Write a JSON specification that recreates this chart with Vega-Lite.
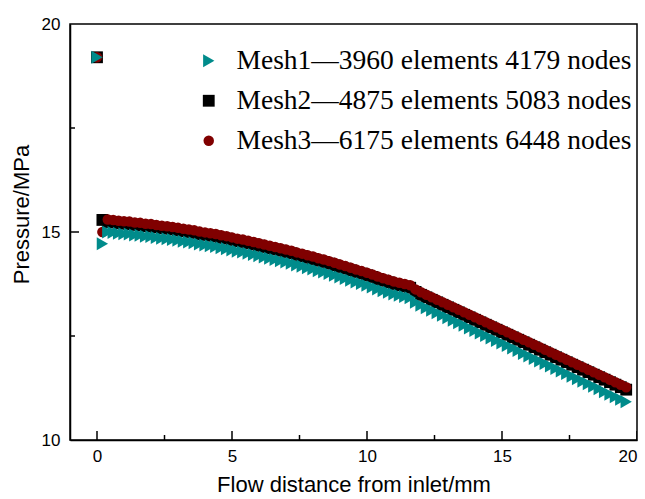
{
  "$schema": "https://vega.github.io/schema/vega-lite/v6.json",
  "width": 567,
  "height": 416,
  "autosize": "none",
  "padding": {"left": 70, "top": 24, "right": 8, "bottom": 59},
  "background": "white",
  "config": {
    "view": {"stroke": "black", "strokeWidth": 1.5},
    "axis": {
      "grid": false,
      "labelFont": "Liberation Sans",
      "labelFontSize": 17,
      "labelColor": "black",
      "titleFont": "Liberation Sans",
      "titleFontSize": 22,
      "titleFontWeight": "normal",
      "titleColor": "black",
      "domainColor": "black",
      "domainWidth": 1.5
    }
  },
  "datasets": {
    "ticksX": [{"x":0,"y":10},{"x":5,"y":10},{"x":10,"y":10},{"x":15,"y":10},{"x":20,"y":10}],
    "minorX": [{"x":2.5,"y":10},{"x":7.5,"y":10},{"x":12.5,"y":10},{"x":17.5,"y":10}],
    "ticksY": [{"x":-1,"y":15}],
    "minorY": [{"x":-1,"y":12.5},{"x":-1,"y":17.5}]
  },
  "data": {
    "values": [
      {"m":"Mesh2","x":0,"y":19.2},{"m":"Mesh2","x":0.2,"y":15.29},
      {"m":"Mesh2","x":0.4,"y":15.24},{"m":"Mesh2","x":0.6,"y":15.23},{"m":"Mesh2","x":0.8,"y":15.21},{"m":"Mesh2","x":1.0,"y":15.20},{"m":"Mesh2","x":1.2,"y":15.19},{"m":"Mesh2","x":1.4,"y":15.17},{"m":"Mesh2","x":1.6,"y":15.16},{"m":"Mesh2","x":1.8,"y":15.14},{"m":"Mesh2","x":2.0,"y":15.13},{"m":"Mesh2","x":2.2,"y":15.11},{"m":"Mesh2","x":2.4,"y":15.09},{"m":"Mesh2","x":2.6,"y":15.08},{"m":"Mesh2","x":2.8,"y":15.06},{"m":"Mesh2","x":3.0,"y":15.04},{"m":"Mesh2","x":3.2,"y":15.02},{"m":"Mesh2","x":3.4,"y":15.00},{"m":"Mesh2","x":3.6,"y":14.98},{"m":"Mesh2","x":3.8,"y":14.95},{"m":"Mesh2","x":4.0,"y":14.93},{"m":"Mesh2","x":4.2,"y":14.91},{"m":"Mesh2","x":4.4,"y":14.89},{"m":"Mesh2","x":4.6,"y":14.86},{"m":"Mesh2","x":4.8,"y":14.84},{"m":"Mesh2","x":5.0,"y":14.81},{"m":"Mesh2","x":5.2,"y":14.78},{"m":"Mesh2","x":5.4,"y":14.76},{"m":"Mesh2","x":5.6,"y":14.73},{"m":"Mesh2","x":5.8,"y":14.70},{"m":"Mesh2","x":6.0,"y":14.67},{"m":"Mesh2","x":6.2,"y":14.64},{"m":"Mesh2","x":6.4,"y":14.61},{"m":"Mesh2","x":6.6,"y":14.58},{"m":"Mesh2","x":6.8,"y":14.55},{"m":"Mesh2","x":7.0,"y":14.52},{"m":"Mesh2","x":7.2,"y":14.49},{"m":"Mesh2","x":7.4,"y":14.45},{"m":"Mesh2","x":7.6,"y":14.42},{"m":"Mesh2","x":7.8,"y":14.38},{"m":"Mesh2","x":8.0,"y":14.35},{"m":"Mesh2","x":8.2,"y":14.31},{"m":"Mesh2","x":8.4,"y":14.28},{"m":"Mesh2","x":8.6,"y":14.24},{"m":"Mesh2","x":8.8,"y":14.20},{"m":"Mesh2","x":9.0,"y":14.16},{"m":"Mesh2","x":9.2,"y":14.12},{"m":"Mesh2","x":9.4,"y":14.08},{"m":"Mesh2","x":9.6,"y":14.04},{"m":"Mesh2","x":9.8,"y":14.00},{"m":"Mesh2","x":10.0,"y":13.96},{"m":"Mesh2","x":10.2,"y":13.92},{"m":"Mesh2","x":10.4,"y":13.87},{"m":"Mesh2","x":10.6,"y":13.83},{"m":"Mesh2","x":10.8,"y":13.79},{"m":"Mesh2","x":11.0,"y":13.75},{"m":"Mesh2","x":11.2,"y":13.72},{"m":"Mesh2","x":11.4,"y":13.69},{"m":"Mesh2","x":11.6,"y":13.66},{"m":"Mesh2","x":11.8,"y":13.56},{"m":"Mesh2","x":12.0,"y":13.49},{"m":"Mesh2","x":12.2,"y":13.43},{"m":"Mesh2","x":12.4,"y":13.37},{"m":"Mesh2","x":12.6,"y":13.31},{"m":"Mesh2","x":12.8,"y":13.25},{"m":"Mesh2","x":13.0,"y":13.19},{"m":"Mesh2","x":13.2,"y":13.13},{"m":"Mesh2","x":13.4,"y":13.07},{"m":"Mesh2","x":13.6,"y":13.01},{"m":"Mesh2","x":13.8,"y":12.95},{"m":"Mesh2","x":14.0,"y":12.89},{"m":"Mesh2","x":14.2,"y":12.83},{"m":"Mesh2","x":14.4,"y":12.77},{"m":"Mesh2","x":14.6,"y":12.71},{"m":"Mesh2","x":14.8,"y":12.65},{"m":"Mesh2","x":15.0,"y":12.59},{"m":"Mesh2","x":15.2,"y":12.53},{"m":"Mesh2","x":15.4,"y":12.47},{"m":"Mesh2","x":15.6,"y":12.41},{"m":"Mesh2","x":15.8,"y":12.35},{"m":"Mesh2","x":16.0,"y":12.29},{"m":"Mesh2","x":16.2,"y":12.23},{"m":"Mesh2","x":16.4,"y":12.17},{"m":"Mesh2","x":16.6,"y":12.11},{"m":"Mesh2","x":16.8,"y":12.05},{"m":"Mesh2","x":17.0,"y":11.99},{"m":"Mesh2","x":17.2,"y":11.93},{"m":"Mesh2","x":17.4,"y":11.87},{"m":"Mesh2","x":17.6,"y":11.81},{"m":"Mesh2","x":17.8,"y":11.75},{"m":"Mesh2","x":18.0,"y":11.69},{"m":"Mesh2","x":18.2,"y":11.63},{"m":"Mesh2","x":18.4,"y":11.57},{"m":"Mesh2","x":18.6,"y":11.51},{"m":"Mesh2","x":18.8,"y":11.45},{"m":"Mesh2","x":19.0,"y":11.39},{"m":"Mesh2","x":19.2,"y":11.33},{"m":"Mesh2","x":19.4,"y":11.27},{"m":"Mesh2","x":19.6,"y":11.21},
      {"m":"Mesh3","x":0,"y":19.2},{"m":"Mesh3","x":0.2,"y":15.0},
      {"m":"Mesh3","x":0.4,"y":15.30},{"m":"Mesh3","x":0.6,"y":15.29},{"m":"Mesh3","x":0.8,"y":15.27},{"m":"Mesh3","x":1.0,"y":15.26},{"m":"Mesh3","x":1.2,"y":15.25},{"m":"Mesh3","x":1.4,"y":15.23},{"m":"Mesh3","x":1.6,"y":15.22},{"m":"Mesh3","x":1.8,"y":15.20},{"m":"Mesh3","x":2.0,"y":15.19},{"m":"Mesh3","x":2.2,"y":15.17},{"m":"Mesh3","x":2.4,"y":15.15},{"m":"Mesh3","x":2.6,"y":15.14},{"m":"Mesh3","x":2.8,"y":15.12},{"m":"Mesh3","x":3.0,"y":15.10},{"m":"Mesh3","x":3.2,"y":15.08},{"m":"Mesh3","x":3.4,"y":15.06},{"m":"Mesh3","x":3.6,"y":15.04},{"m":"Mesh3","x":3.8,"y":15.01},{"m":"Mesh3","x":4.0,"y":14.99},{"m":"Mesh3","x":4.2,"y":14.97},{"m":"Mesh3","x":4.4,"y":14.95},{"m":"Mesh3","x":4.6,"y":14.92},{"m":"Mesh3","x":4.8,"y":14.90},{"m":"Mesh3","x":5.0,"y":14.87},{"m":"Mesh3","x":5.2,"y":14.84},{"m":"Mesh3","x":5.4,"y":14.82},{"m":"Mesh3","x":5.6,"y":14.79},{"m":"Mesh3","x":5.8,"y":14.76},{"m":"Mesh3","x":6.0,"y":14.73},{"m":"Mesh3","x":6.2,"y":14.70},{"m":"Mesh3","x":6.4,"y":14.67},{"m":"Mesh3","x":6.6,"y":14.64},{"m":"Mesh3","x":6.8,"y":14.61},{"m":"Mesh3","x":7.0,"y":14.58},{"m":"Mesh3","x":7.2,"y":14.55},{"m":"Mesh3","x":7.4,"y":14.51},{"m":"Mesh3","x":7.6,"y":14.48},{"m":"Mesh3","x":7.8,"y":14.44},{"m":"Mesh3","x":8.0,"y":14.41},{"m":"Mesh3","x":8.2,"y":14.37},{"m":"Mesh3","x":8.4,"y":14.34},{"m":"Mesh3","x":8.6,"y":14.30},{"m":"Mesh3","x":8.8,"y":14.26},{"m":"Mesh3","x":9.0,"y":14.22},{"m":"Mesh3","x":9.2,"y":14.18},{"m":"Mesh3","x":9.4,"y":14.14},{"m":"Mesh3","x":9.6,"y":14.10},{"m":"Mesh3","x":9.8,"y":14.06},{"m":"Mesh3","x":10.0,"y":14.02},{"m":"Mesh3","x":10.2,"y":13.98},{"m":"Mesh3","x":10.4,"y":13.93},{"m":"Mesh3","x":10.6,"y":13.89},{"m":"Mesh3","x":10.8,"y":13.85},{"m":"Mesh3","x":11.0,"y":13.81},{"m":"Mesh3","x":11.2,"y":13.78},{"m":"Mesh3","x":11.4,"y":13.75},{"m":"Mesh3","x":11.6,"y":13.72},{"m":"Mesh3","x":11.8,"y":13.62},{"m":"Mesh3","x":12.0,"y":13.55},{"m":"Mesh3","x":12.2,"y":13.49},{"m":"Mesh3","x":12.4,"y":13.43},{"m":"Mesh3","x":12.6,"y":13.37},{"m":"Mesh3","x":12.8,"y":13.31},{"m":"Mesh3","x":13.0,"y":13.25},{"m":"Mesh3","x":13.2,"y":13.19},{"m":"Mesh3","x":13.4,"y":13.13},{"m":"Mesh3","x":13.6,"y":13.07},{"m":"Mesh3","x":13.8,"y":13.01},{"m":"Mesh3","x":14.0,"y":12.95},{"m":"Mesh3","x":14.2,"y":12.89},{"m":"Mesh3","x":14.4,"y":12.83},{"m":"Mesh3","x":14.6,"y":12.77},{"m":"Mesh3","x":14.8,"y":12.71},{"m":"Mesh3","x":15.0,"y":12.65},{"m":"Mesh3","x":15.2,"y":12.59},{"m":"Mesh3","x":15.4,"y":12.53},{"m":"Mesh3","x":15.6,"y":12.47},{"m":"Mesh3","x":15.8,"y":12.41},{"m":"Mesh3","x":16.0,"y":12.35},{"m":"Mesh3","x":16.2,"y":12.29},{"m":"Mesh3","x":16.4,"y":12.23},{"m":"Mesh3","x":16.6,"y":12.17},{"m":"Mesh3","x":16.8,"y":12.11},{"m":"Mesh3","x":17.0,"y":12.05},{"m":"Mesh3","x":17.2,"y":11.99},{"m":"Mesh3","x":17.4,"y":11.93},{"m":"Mesh3","x":17.6,"y":11.87},{"m":"Mesh3","x":17.8,"y":11.81},{"m":"Mesh3","x":18.0,"y":11.75},{"m":"Mesh3","x":18.2,"y":11.69},{"m":"Mesh3","x":18.4,"y":11.63},{"m":"Mesh3","x":18.6,"y":11.57},{"m":"Mesh3","x":18.8,"y":11.51},{"m":"Mesh3","x":19.0,"y":11.45},{"m":"Mesh3","x":19.2,"y":11.39},{"m":"Mesh3","x":19.4,"y":11.33},{"m":"Mesh3","x":19.6,"y":11.27},
      {"m":"Mesh1","x":0,"y":19.2},{"m":"Mesh1","x":0.2,"y":14.72},
      {"m":"Mesh1","x":0.4,"y":15.00},{"m":"Mesh1","x":0.6,"y":14.99},{"m":"Mesh1","x":0.8,"y":14.97},{"m":"Mesh1","x":1.0,"y":14.96},{"m":"Mesh1","x":1.2,"y":14.95},{"m":"Mesh1","x":1.4,"y":14.93},{"m":"Mesh1","x":1.6,"y":14.92},{"m":"Mesh1","x":1.8,"y":14.90},{"m":"Mesh1","x":2.0,"y":14.89},{"m":"Mesh1","x":2.2,"y":14.87},{"m":"Mesh1","x":2.4,"y":14.85},{"m":"Mesh1","x":2.6,"y":14.84},{"m":"Mesh1","x":2.8,"y":14.82},{"m":"Mesh1","x":3.0,"y":14.80},{"m":"Mesh1","x":3.2,"y":14.78},{"m":"Mesh1","x":3.4,"y":14.76},{"m":"Mesh1","x":3.6,"y":14.74},{"m":"Mesh1","x":3.8,"y":14.71},{"m":"Mesh1","x":4.0,"y":14.69},{"m":"Mesh1","x":4.2,"y":14.67},{"m":"Mesh1","x":4.4,"y":14.65},{"m":"Mesh1","x":4.6,"y":14.62},{"m":"Mesh1","x":4.8,"y":14.60},{"m":"Mesh1","x":5.0,"y":14.57},{"m":"Mesh1","x":5.2,"y":14.54},{"m":"Mesh1","x":5.4,"y":14.52},{"m":"Mesh1","x":5.6,"y":14.49},{"m":"Mesh1","x":5.8,"y":14.46},{"m":"Mesh1","x":6.0,"y":14.43},{"m":"Mesh1","x":6.2,"y":14.40},{"m":"Mesh1","x":6.4,"y":14.37},{"m":"Mesh1","x":6.6,"y":14.34},{"m":"Mesh1","x":6.8,"y":14.31},{"m":"Mesh1","x":7.0,"y":14.28},{"m":"Mesh1","x":7.2,"y":14.25},{"m":"Mesh1","x":7.4,"y":14.21},{"m":"Mesh1","x":7.6,"y":14.18},{"m":"Mesh1","x":7.8,"y":14.14},{"m":"Mesh1","x":8.0,"y":14.11},{"m":"Mesh1","x":8.2,"y":14.07},{"m":"Mesh1","x":8.4,"y":14.04},{"m":"Mesh1","x":8.6,"y":14.00},{"m":"Mesh1","x":8.8,"y":13.96},{"m":"Mesh1","x":9.0,"y":13.92},{"m":"Mesh1","x":9.2,"y":13.88},{"m":"Mesh1","x":9.4,"y":13.84},{"m":"Mesh1","x":9.6,"y":13.80},{"m":"Mesh1","x":9.8,"y":13.76},{"m":"Mesh1","x":10.0,"y":13.72},{"m":"Mesh1","x":10.2,"y":13.68},{"m":"Mesh1","x":10.4,"y":13.63},{"m":"Mesh1","x":10.6,"y":13.59},{"m":"Mesh1","x":10.8,"y":13.55},{"m":"Mesh1","x":11.0,"y":13.51},{"m":"Mesh1","x":11.2,"y":13.48},{"m":"Mesh1","x":11.4,"y":13.45},{"m":"Mesh1","x":11.6,"y":13.42},{"m":"Mesh1","x":11.8,"y":13.31},{"m":"Mesh1","x":12.0,"y":13.24},{"m":"Mesh1","x":12.2,"y":13.18},{"m":"Mesh1","x":12.4,"y":13.12},{"m":"Mesh1","x":12.6,"y":13.06},{"m":"Mesh1","x":12.8,"y":13.00},{"m":"Mesh1","x":13.0,"y":12.94},{"m":"Mesh1","x":13.2,"y":12.88},{"m":"Mesh1","x":13.4,"y":12.82},{"m":"Mesh1","x":13.6,"y":12.76},{"m":"Mesh1","x":13.8,"y":12.69},{"m":"Mesh1","x":14.0,"y":12.63},{"m":"Mesh1","x":14.2,"y":12.57},{"m":"Mesh1","x":14.4,"y":12.51},{"m":"Mesh1","x":14.6,"y":12.45},{"m":"Mesh1","x":14.8,"y":12.39},{"m":"Mesh1","x":15.0,"y":12.33},{"m":"Mesh1","x":15.2,"y":12.27},{"m":"Mesh1","x":15.4,"y":12.21},{"m":"Mesh1","x":15.6,"y":12.15},{"m":"Mesh1","x":15.8,"y":12.08},{"m":"Mesh1","x":16.0,"y":12.02},{"m":"Mesh1","x":16.2,"y":11.96},{"m":"Mesh1","x":16.4,"y":11.90},{"m":"Mesh1","x":16.6,"y":11.84},{"m":"Mesh1","x":16.8,"y":11.78},{"m":"Mesh1","x":17.0,"y":11.72},{"m":"Mesh1","x":17.2,"y":11.66},{"m":"Mesh1","x":17.4,"y":11.60},{"m":"Mesh1","x":17.6,"y":11.53},{"m":"Mesh1","x":17.8,"y":11.47},{"m":"Mesh1","x":18.0,"y":11.41},{"m":"Mesh1","x":18.2,"y":11.35},{"m":"Mesh1","x":18.4,"y":11.29},{"m":"Mesh1","x":18.6,"y":11.23},{"m":"Mesh1","x":18.8,"y":11.16},{"m":"Mesh1","x":19.0,"y":11.10},{"m":"Mesh1","x":19.2,"y":11.04},{"m":"Mesh1","x":19.4,"y":10.98},{"m":"Mesh1","x":19.6,"y":10.92}
    ]
  },
  "layer": [
    {
      "mark": {"type": "point", "filled": true, "opacity": 1, "strokeWidth": 0},
      "encoding": {
        "x": {"field": "x", "type": "quantitative",
              "scale": {"domain": [-1, 20], "nice": false, "zero": false},
              "axis": {"orient": "bottom", "values": [0, 5, 10, 15, 20], "title": "Flow distance from inlet/mm", "ticks": false, "tickSize": 0, "labelPadding": 8, "titlePadding": 10}},
        "y": {"field": "y", "type": "quantitative",
              "scale": {"domain": [10, 20], "nice": false, "zero": false},
              "axis": {"orient": "left", "values": [10, 15, 20], "title": "Pressure/MPa", "ticks": false, "tickSize": 0, "labelPadding": 10, "titlePadding": 8, "titleY": 190}},
        "color": {"field": "m", "type": "nominal",
                  "scale": {"domain": ["Mesh1", "Mesh2", "Mesh3"], "range": ["#008B8B", "#000000", "#800000"]},
                  "legend": {"orient": "none", "legendX": 125, "legendY": 23, "title": null, "padding": 0,
                             "labelFont": "Liberation Serif", "labelFontSize": 27.5, "labelColor": "black",
                             "labelLimit": 600, "labelOffset": 14, "rowPadding": 11, "symbolSize": 55,
                             "labelExpr": "datum.label == 'Mesh1' ? 'Mesh1—3960 elements 4179 nodes' : datum.label == 'Mesh2' ? 'Mesh2—4875 elements 5083 nodes' : 'Mesh3—6175 elements 6448 nodes'"}},
        "shape": {"field": "m", "type": "nominal",
                  "scale": {"domain": ["Mesh1", "Mesh2", "Mesh3"], "range": ["triangle-right", "square", "circle"]}},
        "size": {"field": "m", "type": "nominal",
                 "scale": {"domain": ["Mesh1", "Mesh2", "Mesh3"], "range": [170, 110, 130]}, "legend": null}
      }
    },
    {
      "data": {"name": "ticksX"},
      "mark": {"type": "tick", "orient": "vertical", "size": 18, "thickness": 1.5, "color": "black", "opacity": 1, "clip": true},
      "encoding": {
        "x": {"field": "x", "type": "quantitative", "axis": null},
        "y": {"field": "y", "type": "quantitative", "axis": null}
      }
    },
    {
      "data": {"name": "minorX"},
      "mark": {"type": "tick", "orient": "vertical", "size": 10, "thickness": 1.5, "color": "black", "opacity": 1, "clip": true},
      "encoding": {
        "x": {"field": "x", "type": "quantitative", "axis": null},
        "y": {"field": "y", "type": "quantitative", "axis": null}
      }
    },
    {
      "data": {"name": "ticksY"},
      "mark": {"type": "tick", "orient": "horizontal", "size": 18, "thickness": 1.5, "color": "black", "opacity": 1, "clip": true},
      "encoding": {
        "x": {"field": "x", "type": "quantitative", "axis": null},
        "y": {"field": "y", "type": "quantitative", "axis": null}
      }
    },
    {
      "data": {"name": "minorY"},
      "mark": {"type": "tick", "orient": "horizontal", "size": 10, "thickness": 1.5, "color": "black", "opacity": 1, "clip": true},
      "encoding": {
        "x": {"field": "x", "type": "quantitative", "axis": null},
        "y": {"field": "y", "type": "quantitative", "axis": null}
      }
    }
  ],
  "resolve": {"axis": {"x": "independent", "y": "independent"}}
}
